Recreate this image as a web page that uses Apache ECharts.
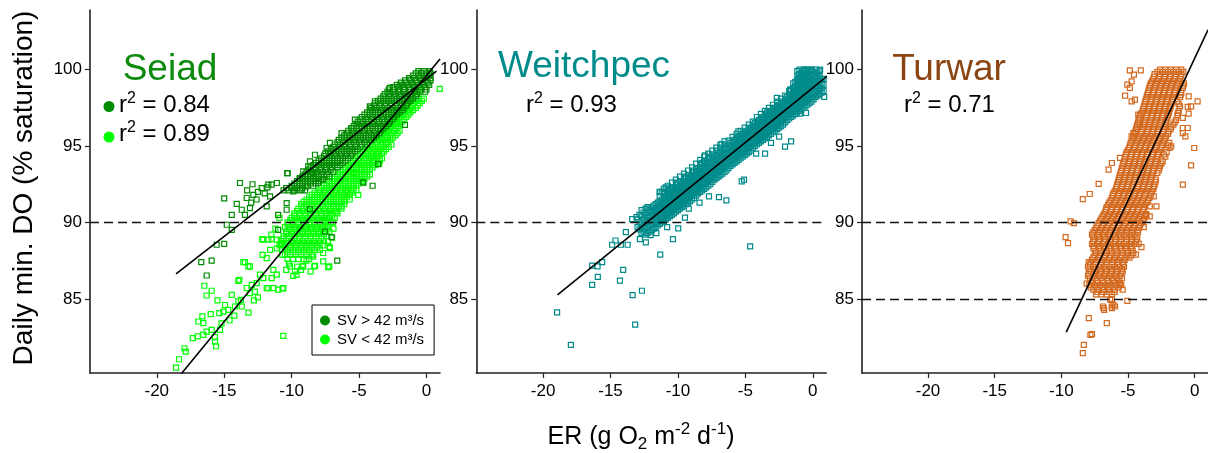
<!DOCTYPE html>
<html><head><meta charset="utf-8">
<script src="https://cdn.jsdelivr.net/npm/echarts@6/dist/echarts.min.js"></script>
<style>html,body{margin:0;padding:0;background:#fff}#c{width:1208px;height:453px}</style>
</head><body><div id="c"></div>
<script>
const FONT = '"Liberation Sans", Arial, Helvetica, sans-serif';
const xTicks = [-20, -15, -10, -5, 0];
const yTicks = [85, 90, 95, 100];
const panelNames = ['Seiad', 'Weitchpec', 'Turwar'];
const r2Values = ['0.84', '0.89', '0.93', '0.71'];
const legendNames = ['SV > 42 m³/s', 'SV < 42 m³/s'];
const thresholds = [[90], [90], [90, 85]];

// regression lines (end points)
const fitSeiadHi = [[-18.57, 86.64], [0.74, 99.9]];
const fitSeiadLo = [[-18.15, 80.14], [1.0, 100.7]];
const fitWeit = [[-18.93, 85.26], [1.04, 99.56]];
const fitTurwar = [[-9.63, 82.82], [1.0, 102.6]];

// Seiad, SV > 42 : rows [y, x, x, ...] and single points [x, y]
const seiadHiRows = [
[92.1,-10.6,-10.2,-9.8,-9.4,-9.0],[92.25,-10.4,-10.0,-9.6,-9.2],
[92.4,-10.0,-9.6,-9.2,-8.8,-8.4],[92.55,-9.8,-9.4,-9.0,-8.6,-8.2],
[92.7,-9.6,-9.2,-8.8,-8.4,-8.0],[92.85,-9.4,-9.0,-8.6,-8.2,-7.8],
[93.0,-9.2,-8.8,-8.4,-8.0,-7.6,-7.2],[93.15,-9.0,-8.6,-8.2,-7.8,-7.4],
[93.3,-8.9,-8.5,-8.1,-7.7,-7.3,-6.9],[93.45,-8.7,-8.3,-7.9,-7.5,-7.1],
[93.6,-8.6,-8.2,-7.8,-7.4,-7.0,-6.6],[93.75,-8.4,-8.0,-7.6,-7.2,-6.8,-6.4],
[93.9,-8.2,-7.8,-7.4,-7.0,-6.6,-6.2],[94.05,-8.0,-7.6,-7.2,-6.8,-6.4,-6.0],
[94.2,-7.8,-7.4,-7.0,-6.6,-6.2,-5.8],[94.35,-7.6,-7.2,-6.8,-6.4,-6.0,-5.6],
[94.5,-7.5,-7.1,-6.7,-6.3,-5.9,-5.5],[94.65,-7.3,-6.9,-6.5,-6.1,-5.7,-5.3],
[94.8,-7.1,-6.7,-6.3,-5.9,-5.5,-5.1],[94.95,-6.9,-6.5,-6.1,-5.7,-5.3,-4.9],
[95.1,-6.8,-6.4,-6.0,-5.6,-5.2,-4.8,-4.4],[95.25,-6.6,-6.2,-5.8,-5.4,-5.0,-4.6],
[95.4,-6.5,-6.1,-5.7,-5.3,-4.9,-4.5,-4.1],[95.55,-6.3,-5.9,-5.5,-5.1,-4.7,-4.3,-3.9],
[95.7,-6.1,-5.7,-5.3,-4.9,-4.5,-4.1,-3.7],[95.85,-5.9,-5.5,-5.1,-4.7,-4.3,-3.9,-3.5],
[96.0,-5.8,-5.4,-5.0,-4.6,-4.2,-3.8,-3.4],[96.15,-5.6,-5.2,-4.8,-4.4,-4.0,-3.6,-3.2],
[96.3,-5.4,-5.0,-4.6,-4.2,-3.8,-3.4,-3.0],[96.45,-5.2,-4.8,-4.4,-4.0,-3.6,-3.2,-2.8],
[96.6,-5.1,-4.7,-4.3,-3.9,-3.5,-3.1,-2.7],[96.75,-4.9,-4.5,-4.1,-3.7,-3.3,-2.9,-2.5],
[96.9,-4.8,-4.4,-4.0,-3.6,-3.2,-2.8,-2.4],[97.05,-4.6,-4.2,-3.8,-3.4,-3.0,-2.6,-2.2],
[97.2,-4.4,-4.0,-3.6,-3.2,-2.8,-2.4,-2.0],[97.35,-4.2,-3.8,-3.4,-3.0,-2.6,-2.2,-1.8],
[97.5,-4.1,-3.7,-3.3,-2.9,-2.5,-2.1,-1.7],[97.65,-3.9,-3.5,-3.1,-2.7,-2.3,-1.9,-1.5],
[97.8,-3.8,-3.4,-3.0,-2.6,-2.2,-1.8,-1.4],[97.95,-3.6,-3.2,-2.8,-2.4,-2.0,-1.6,-1.2],
[98.1,-3.4,-3.0,-2.6,-2.2,-1.8,-1.4,-1.0],[98.25,-3.2,-2.8,-2.4,-2.0,-1.6,-1.2,-0.8],
[98.4,-3.1,-2.7,-2.3,-1.9,-1.5,-1.1,-0.7],[98.55,-2.9,-2.5,-2.1,-1.7,-1.3,-0.9,-0.5,-0.1],
[98.7,-2.8,-2.4,-2.0,-1.6,-1.2,-0.8,-0.4,0.0],[98.85,-2.5,-2.1,-1.7,-1.3,-0.9,-0.5,-0.1],
[99.0,-2.2,-1.8,-1.4,-1.0,-0.6,-0.2,0.2],[99.15,-1.9,-1.5,-1.1,-0.7,-0.3,0.1],
[99.3,-1.6,-1.2,-0.8,-0.4,0.0,0.3],[99.45,-1.3,-0.9,-0.5,-0.1,0.3],
[99.6,-1.0,-0.6,-0.2,0.2],[99.75,-0.8,-0.4,0.0,0.3],[99.9,-0.6,-0.2,0.2]
];
const seiadHiPts = [
[-15.0,91.57],[-13.83,92.58],[-16.7,87.4],[-15.93,87.5],[-16.3,86.53],[-15.0,88.6],[-15.56,88.54],
[-14.07,91.22],[-14.44,90.5],[-14.81,89.85],[-14.44,89.52],[-13.33,91.6],[-12.84,91.8],[-12.5,92.0],
[-12.22,92.25],[-11.8,92.3],[-11.48,92.47],[-11.1,92.58],[-11.85,91.05],[-13.09,90.94],[-13.7,90.83],
[-13.46,90.5],[-11.0,90.5],[-10.37,90.83],[-11.0,89.52],[-10.37,91.27],[-9.88,92.03],[-10.3,93.23],
[-12.6,91.5],[-12.0,91.9],[-11.6,91.7],[-13.0,91.3],[-7.53,89.4],[-6.62,87.5],[-7.04,89.04],
[-8.64,90.87],[-4.0,92.4],[-3.58,93.82],[-4.69,92.62],[-1.6,96.38],[-13.3,92.1],[-12.9,92.5],
[-11.73,92.47],[-10.33,93.23],[-9.26,92.14],[-8.89,92.36],[-9.14,93.34],[-8.4,93.23],[-8.03,92.58],
[-7.66,92.8],[-2.72,98.8],[-1.98,98.9],[-1.24,99.35],[-0.37,99.78],[0.24,99.9],[-3.83,97.93],
[-4.2,97.6],[-5.31,96.73],[-5.56,96.18],[-6.3,95.85],[-7.16,95.2],[-7.41,94.87],[-8.27,94.43],
[-8.64,94.0],[-8.77,93.67],[-9.39,92.9],[-9.76,92.25]
];

// Seiad, SV < 42
const seiadLoRows = [
[87.6,-10.3,-9.9,-9.5,-9.1,-8.7],[87.9,-10.5,-10.1,-9.7,-9.3,-8.9,-8.5],
[88.05,-10.3,-9.9,-9.5,-9.1,-8.7],[88.2,-10.7,-10.3,-9.9,-9.5,-9.1,-8.7,-8.3,-7.9],
[88.35,-10.5,-10.1,-9.7,-9.3,-8.9,-8.5,-8.1],[88.5,-10.9,-10.5,-10.1,-9.7,-9.3,-8.9,-8.5,-8.1,-7.7],
[88.65,-10.7,-10.3,-9.9,-9.5,-9.1,-8.7,-8.3,-7.9],[88.8,-10.8,-10.4,-10.0,-9.6,-9.2,-8.8,-8.4,-8.0,-7.6],
[88.95,-10.6,-10.2,-9.8,-9.4,-9.0,-8.6,-8.2,-7.8],[89.1,-10.6,-10.2,-9.8,-9.4,-9.0,-8.6,-8.2,-7.8,-7.4],
[89.25,-10.4,-10.0,-9.6,-9.2,-8.8,-8.4,-8.0,-7.6],[89.4,-10.4,-10.0,-9.6,-9.2,-8.8,-8.4,-8.0,-7.6,-7.2],
[89.55,-10.2,-9.8,-9.4,-9.0,-8.6,-8.2,-7.8,-7.4],[89.7,-10.5,-10.1,-9.7,-9.3,-8.9,-8.5,-8.1,-7.7,-7.3],
[89.85,-10.3,-9.9,-9.5,-9.1,-8.7,-8.3,-7.9,-7.5],[90.0,-10.3,-9.9,-9.5,-9.1,-8.7,-8.3,-7.9,-7.5,-7.1],
[90.15,-10.1,-9.7,-9.3,-8.9,-8.5,-8.1,-7.7,-7.3],[90.3,-10.0,-9.6,-9.2,-8.8,-8.4,-8.0,-7.6,-7.2,-6.8],
[90.45,-9.8,-9.4,-9.0,-8.6,-8.2,-7.8,-7.4,-7.0],[90.6,-9.8,-9.4,-9.0,-8.6,-8.2,-7.8,-7.4,-7.0,-6.6],
[90.75,-9.6,-9.2,-8.8,-8.4,-8.0,-7.6,-7.2,-6.8],[90.9,-9.5,-9.1,-8.7,-8.3,-7.9,-7.5,-7.1,-6.7,-6.3],
[91.05,-9.3,-8.9,-8.5,-8.1,-7.7,-7.3,-6.9,-6.5],[91.2,-9.3,-8.9,-8.5,-8.1,-7.7,-7.3,-6.9,-6.5,-6.1],
[91.35,-9.1,-8.7,-8.3,-7.9,-7.5,-7.1,-6.7,-6.3],[91.5,-8.9,-8.5,-8.1,-7.7,-7.3,-6.9,-6.5,-6.1,-5.7],
[91.65,-8.7,-8.3,-7.9,-7.5,-7.1,-6.7,-6.3,-5.9],
[91.8,-8.5,-8.1,-7.7,-7.3,-6.9,-6.5,-6.1,-5.7],[91.95,-8.3,-7.9,-7.5,-7.1,-6.7,-6.3,-5.9,-5.5],
[92.1,-8.0,-7.6,-7.2,-6.8,-6.4,-6.0,-5.6,-5.2],[92.25,-7.8,-7.4,-7.0,-6.6,-6.2,-5.8,-5.4],
[92.4,-7.6,-7.2,-6.8,-6.4,-6.0,-5.6,-5.2],[92.55,-7.4,-7.0,-6.6,-6.2,-5.8,-5.4,-5.0],
[92.7,-7.2,-6.8,-6.4,-6.0,-5.6,-5.2,-4.8],[92.85,-7.0,-6.6,-6.2,-5.8,-5.4,-5.0,-4.6],
[93.0,-6.8,-6.4,-6.0,-5.6,-5.2,-4.8,-4.4],[93.15,-6.6,-6.2,-5.8,-5.4,-5.0,-4.6,-4.2],
[93.3,-6.4,-6.0,-5.6,-5.2,-4.8,-4.4],[93.45,-6.2,-5.8,-5.4,-5.0,-4.6,-4.2],
[93.6,-6.0,-5.6,-5.2,-4.8,-4.4,-4.0],[93.75,-5.8,-5.4,-5.0,-4.6,-4.2,-3.8],
[93.9,-5.6,-5.2,-4.8,-4.4,-4.0,-3.6],[94.05,-5.45,-5.05,-4.65,-4.25,-3.85,-3.45],
[94.2,-5.3,-4.9,-4.5,-4.1,-3.7,-3.3],[94.35,-5.1,-4.7,-4.3,-3.9,-3.5],
[94.5,-4.9,-4.5,-4.1,-3.7,-3.3],[94.65,-4.75,-4.35,-3.95,-3.55,-3.15],
[94.8,-4.6,-4.2,-3.8,-3.4,-3.0],[94.95,-4.4,-4.0,-3.6,-3.2,-2.8],
[95.1,-4.2,-3.8,-3.4,-3.0,-2.6],[95.25,-4.05,-3.65,-3.25,-2.85],
[95.4,-3.9,-3.5,-3.1,-2.7],[95.55,-3.7,-3.3,-2.9,-2.5],
[95.7,-3.5,-3.1,-2.7,-2.3],[95.85,-3.35,-2.95,-2.55,-2.15],
[96.0,-3.2,-2.8,-2.4,-2.0],[96.15,-3.05,-2.65,-2.25],
[96.3,-2.9,-2.5,-2.1],[96.45,-2.75,-2.35,-1.95],[96.6,-2.6,-2.2,-1.8],[96.75,-2.45,-2.05,-1.65],
[96.9,-2.3,-1.9,-1.5],[97.05,-2.15,-1.75,-1.35],[97.2,-2.0,-1.6,-1.2],[97.35,-1.8,-1.4,-1.0],
[97.5,-1.6,-1.2,-0.8],[97.65,-1.45,-1.05,-0.65],[97.8,-1.3,-0.9,-0.5],[97.95,-1.15,-0.75,-0.35],
[98.1,-1.0,-0.6,-0.2]
];
const seiadLoPts = [
[-18.57,80.5],[-18.35,81.05],[-17.95,81.77],[-17.85,81.55],[-17.33,82.43],[-16.96,82.54],[-16.55,82.65],
[-16.3,82.86],[-15.93,82.97],[-15.68,82.2],[-15.31,82.97],[-15.7,82.5],[-15.6,81.9],[-16.92,83.52],
[-16.55,83.41],[-16.62,83.85],[-15.36,84.07],[-15.06,84.17],[-14.7,84.28],[-14.94,84.6],[-14.25,83.91],
[-16.3,85.22],[-15.93,85.53],[-16.47,85.86],[-14.44,85.26],[-13.95,84.83],[-13.7,84.5],[-13.76,84.93],
[-13.33,85.71],[-13.09,85.37],[-12.72,85.48],[-12.96,85.92],[-12.59,86.03],[-12.1,86.36],[-12.35,86.58],
[-13.88,86.25],[-13.46,87.4],[-13.09,87.12],[-12.15,87.88],[-11.85,87.67],[-11.6,88.2],[-12.1,88.87],
[-11.73,85.7],[-11.36,85.7],[-10.99,85.6],[-10.62,85.7],[-10.62,82.58],[-12.18,88.91],[-11.73,88.87],
[-11.48,88.91],[-11.1,88.87],[-11.36,86.9],[-11.48,86.36],[-11.1,86.58],[-9.63,86.58],[-9.75,86.8],
[-10.12,87.12],[-9.14,87.12],[-8.27,87.16],[-7.29,87.08],[-8.4,87.77],[-7.66,88.0],[-7.21,87.12],
[-8.32,87.12],[-9.19,87.12],[-9.88,86.51],[-10.67,85.68],[-11.85,85.7],[0.98,98.74],[-1.29,97.34],
[-1.85,97.27],[-3.01,95.24],[-3.51,93.84],[-4.69,92.58],[-5.88,91.81],[-5.36,93.23],[-7.16,88.32],
[-7.66,87.45],[-12.8,84.9],[-14.2,84.5],[-13.2,84.1],[-12.5,85.1],[-14.6,83.6],[-15.2,83.4],
[-16.0,84.0],[-15.5,84.9],[-13.21,87.12],[-13.58,87.41],[-13.95,86.18],[-7.2,88.4],[-7.0,89.0],
[-6.9,89.6],[-7.3,88.8],[-6.94,90.0],[-2.22,96.51],[-2.72,96.29],[-2.96,95.96],[-3.33,95.74],
[-3.58,94.65],[-3.95,94.22],[-4.81,93.45],[-5.06,91.81],[-5.68,91.81],[-6.05,91.37],[-6.3,91.05],
[-6.67,90.72],[-7.16,90.5],[-7.53,90.07],[-2.47,96.94],[-1.36,97.92],[-0.62,98.58],[-11.5,89.2],
[-11.2,89.6],[-10.9,90.3],[-10.7,87.9],[-11.1,88.3],[-10.2,87.3],[-9.6,87.1],[-8.9,87.5],[-10.8,88.6],
[-9.3,86.9],[-8.6,86.8],[-10.4,86.9]
];

// Weitchpec: columns [x, y, y, ...] and single points [x, y]
const weitCols = [
[-13.0,89.7,90.2],[-12.85,89.55,90.0,90.5],[-12.7,89.3,89.8,90.4,90.8],[-12.55,89.4,89.75,90.2,90.65],
[-12.4,89.2,89.6,90.0,90.5,90.9],[-12.25,89.3,89.7,90.05,90.3,90.65,91.0],
[-12.1,89.4,89.8,90.1,90.4,90.8],[-11.95,89.5,89.85,90.15,90.45,90.7,90.95],
[-11.8,89.6,89.9,90.2,90.5,90.8,91.1],[-11.65,89.7,90.0,90.3,90.6,90.9,91.2],
[-11.5,89.8,90.1,90.4,90.7,91.0,91.3],[-11.35,89.9,90.2,90.5,90.8,91.1,91.4,91.7,92.0],
[-11.2,90.0,90.3,90.6,90.9,91.2,91.5,92.0],[-11.05,90.1,90.4,90.7,91.0,91.3,91.6,91.9,92.2],
[-10.9,90.2,90.5,90.8,91.1,91.4,91.7],[-10.75,90.3,90.6,90.9,91.2,91.5,91.8,92.1,92.4],
[-10.6,90.4,90.7,91.0,91.3,91.6,91.9,92.2],[-10.45,90.5,90.8,91.1,91.4,91.7,92.0,92.3,92.6],
[-10.3,90.6,90.9,91.2,91.5,91.8,92.1],[-10.15,90.7,91.0,91.3,91.6,91.9,92.2,92.5,92.8],
[-10.0,90.8,91.1,91.4,91.7,92.0,92.3,92.6],[-9.85,90.9,91.2,91.5,91.8,92.1,92.4,92.7,93.0],
[-9.7,91.0,91.3,91.6,91.9,92.2,92.5],[-9.55,91.1,91.4,91.7,92.0,92.3,92.6,92.9,93.2],
[-9.4,91.2,91.5,91.8,92.1,92.4,92.7,93.0],[-9.25,91.3,91.6,91.9,92.2,92.5,92.8,93.1,93.4],
[-9.1,91.4,91.7,92.0,92.3,92.6,92.9],[-8.95,91.5,91.8,92.1,92.4,92.7,93.0,93.3,93.6],
[-8.8,91.6,91.9,92.2,92.5,92.8,93.1,93.4],[-8.65,91.75,92.05,92.35,92.65,92.95,93.25,93.55,93.85],
[-8.5,91.9,92.2,92.5,92.8,93.1,93.4],[-8.35,92.0,92.3,92.6,92.9,93.2,93.5,93.8,94.1],
[-8.2,92.1,92.4,92.7,93.0,93.3,93.6,93.9],[-8.05,92.2,92.5,92.8,93.1,93.4,93.7,94.0,94.3],
[-7.9,92.3,92.6,92.9,93.2,93.5,93.8],[-7.75,92.4,92.7,93.0,93.3,93.6,93.9,94.2,94.5],
[-7.6,92.5,92.8,93.1,93.4,93.7,94.0,94.3],[-7.45,92.65,92.95,93.25,93.55,93.85,94.15,94.45,94.7],
[-7.3,92.8,93.1,93.4,93.7,94.0,94.3],[-7.15,92.9,93.2,93.5,93.8,94.1,94.4,94.7,94.9],
[-7.0,93.0,93.3,93.6,93.9,94.2,94.5],[-6.85,93.1,93.4,93.7,94.0,94.3,94.6,94.9,95.1],
[-6.7,93.2,93.5,93.8,94.1,94.4,94.7],[-6.55,93.3,93.6,93.9,94.2,94.5,94.8,95.1,95.3],
[-6.4,93.4,93.7,94.0,94.3,94.6,94.9],[-6.25,93.55,93.85,94.15,94.45,94.75,95.05,95.35],
[-6.1,93.7,94.0,94.3,94.6,94.9,95.2],[-5.95,93.8,94.1,94.4,94.7,95.0,95.3,95.6],
[-5.8,93.9,94.2,94.5,94.8,95.1,95.4],[-5.65,94.0,94.3,94.6,94.9,95.2,95.5,95.8],
[-5.5,94.1,94.4,94.7,95.0,95.3,95.6],[-5.35,94.2,94.5,94.8,95.1,95.4,95.7,96.0],
[-5.2,94.3,94.6,94.9,95.2,95.5,95.8],[-5.05,94.4,94.7,95.0,95.3,95.6,95.9,96.2],
[-4.9,94.5,94.8,95.1,95.4,95.7,96.0],[-4.75,94.6,94.9,95.2,95.5,95.8,96.1,96.4],
[-4.6,94.7,95.0,95.3,95.6,95.9,96.2],[-4.45,94.85,95.15,95.45,95.75,96.05,96.35,96.6],
[-4.3,95.0,95.3,95.6,95.9,96.2,96.5],[-4.15,95.1,95.4,95.7,96.0,96.3,96.6,96.9],
[-4.0,95.2,95.5,95.8,96.1,96.4,96.7],[-3.85,95.3,95.6,95.9,96.2,96.5,96.8,97.1],
[-3.7,95.4,95.7,96.0,96.3,96.6,96.9],[-3.55,95.5,95.8,96.1,96.4,96.7,97.0,97.3],
[-3.4,95.6,95.9,96.2,96.5,96.8,97.1],[-3.25,95.7,96.0,96.3,96.6,96.9,97.2,97.5],
[-3.1,95.8,96.1,96.4,96.7,97.0,97.3],[-2.95,95.9,96.2,96.5,96.8,97.1,97.4,97.7],
[-2.8,96.0,96.3,96.6,96.9,97.2,97.5],[-2.65,96.1,96.4,96.7,97.0,97.3,97.6,97.9],
[-2.5,96.2,96.5,96.8,97.1,97.4,97.7],[-2.35,96.3,96.6,96.9,97.2,97.5,97.8,98.1],
[-2.2,96.4,96.7,97.0,97.3,97.6,97.9],[-2.05,96.55,96.85,97.15,97.45,97.75,98.05,98.3],
[-1.9,96.7,97.0,97.3,97.6,97.9,98.2],[-1.75,96.8,97.1,97.4,97.7,98.0,98.3,98.6],
[-1.6,96.9,97.2,97.5,97.8,98.1,98.4,98.7],[-1.45,97.0,97.3,97.6,97.9,98.2,98.5,98.8,99.1],
[-1.3,97.1,97.4,97.7,98.0,98.3,98.6,98.9,99.2],
[-1.15,97.2,97.5,97.8,98.1,98.4,98.7,99.0,99.3,99.6,99.9],
[-1.0,97.3,97.6,97.9,98.2,98.5,98.8,99.1,99.4,99.7,100.0],
[-0.85,97.4,97.7,98.0,98.3,98.6,98.9,99.2,99.5,99.8],
[-0.7,97.5,97.8,98.1,98.4,98.7,99.0,99.3,99.6,99.9],
[-0.55,97.6,97.9,98.2,98.5,98.8,99.1,99.4,99.7,100.0],
[-0.4,97.7,98.0,98.3,98.6,98.9,99.2,99.5,99.8,100.0],
[-0.25,97.8,98.1,98.4,98.7,99.0,99.3,99.6,99.9],
[-0.1,97.9,98.2,98.5,98.8,99.1,99.4,99.7,100.0],
[0.05,98.05,98.35,98.65,98.95,99.25,99.55,99.85],
[0.2,98.2,98.5,98.8,99.1,99.4,99.7,100.0],[0.35,98.3,98.6,98.9,99.2,99.5,99.8],
[0.5,98.4,98.7,99.0,99.3,99.6,99.9],[0.65,98.5,98.8,99.1,99.4],[0.8,98.6,99.0,99.4]
];
const weitPts = [
[-18.96,84.11],[-17.94,81.99],[-16.36,85.92],[-15.94,86.44],[-16.36,87.18],[-15.96,87.12],[-15.62,87.41],
[-14.06,86.9],[-14.3,86.2],[-13.36,85.25],[-12.67,85.53],[-13.17,83.32],[-11.31,87.9],[-10.37,88.91],
[-9.98,89.61],[-9.48,90.31],[-6.96,91.66],[-6.41,91.44],[-5.27,92.69],[-5.1,92.8],[-4.65,88.43],[-3.54,94.5],
[-2.5,95.61],[-2.06,94.96],[-1.61,95.31],[-0.5,97.16],[-0.94,97.12],[0.84,98.21],[-2.67,98.15],
[-3.37,97.25],[-5.52,95.96],[-6.76,95.13],[-8.0,94.39],[-11.34,91.99],[-10.91,92.29],[-12.2,91.0],
[-13.39,90.22],[-13.07,90.35],[-13.86,89.37],[-14.63,88.82],[-14.88,88.54],[-14.23,88.54],[-13.73,88.54],
[-12.82,88.91],[-12.38,88.69],[-12.03,89.17],[-0.65,100.0],[-0.07,100.0],[0.54,100.0],[-1.07,99.46],
[-1.69,98.69],[-9.2,90.9],[-8.4,91.3],[-7.7,91.7],[-10.8,89.7],[-11.6,89.3],[-4.2,94.5],[-3.1,95.2]
];

// Turwar: rows [y, x, x, ...] and single points [x, y]
const turwarRows = [
[85.3,-7.4,-7.0,-6.6,-6.2],[85.45,-7.3,-6.85,-6.4,-6.0],
[85.6,-7.6,-7.2,-6.8,-6.4,-6.0],[85.75,-7.8,-7.35,-6.95,-6.5,-6.15,-5.7],
[85.9,-7.9,-7.5,-7.1,-6.7,-6.3,-5.9,-5.5],[86.05,-7.75,-7.3,-6.85,-6.45,-6.0,-5.6],
[86.2,-7.7,-7.3,-6.9,-6.5,-6.1,-5.7],[86.35,-7.85,-7.45,-7.05,-6.6,-6.2,-5.85,-5.45],
[86.5,-8.0,-7.6,-7.2,-6.8,-6.4,-6.0,-5.6],[86.65,-7.95,-7.55,-7.1,-6.7,-6.3,-5.9,-5.5],
[86.8,-7.8,-7.4,-7.0,-6.6,-6.2,-5.8,-5.4],[86.95,-7.9,-7.45,-7.05,-6.65,-6.25,-5.85,-5.45],
[87.1,-8.0,-7.6,-7.2,-6.8,-6.4,-6.0,-5.6,-5.3],[87.25,-7.85,-7.45,-7.05,-6.6,-6.2,-5.75,-5.35],
[87.4,-7.8,-7.4,-7.0,-6.6,-6.2,-5.8,-5.4],[87.55,-7.7,-7.3,-6.9,-6.45,-6.05,-5.7,-5.25],
[87.7,-7.6,-7.2,-6.8,-6.4,-6.0,-5.6,-5.2,-4.9],[87.85,-7.5,-7.1,-6.7,-6.3,-5.85,-5.45,-5.05,-4.75],
[88.0,-7.4,-7.0,-6.6,-6.2,-5.8,-5.4,-5.0,-4.6],[88.15,-7.45,-7.05,-6.65,-6.25,-5.85,-5.45,-5.05,-4.65],
[88.3,-7.6,-7.2,-6.8,-6.4,-6.0,-5.6,-5.2,-4.8],[88.45,-7.55,-7.1,-6.7,-6.3,-5.9,-5.5,-5.1,-4.7],
[88.6,-7.7,-7.3,-6.9,-6.5,-6.1,-5.7,-5.3,-4.9,-4.5],[88.75,-7.6,-7.2,-6.8,-6.35,-5.95,-5.55,-5.15,-4.7,-4.4],
[88.9,-7.5,-7.1,-6.7,-6.3,-5.9,-5.5,-5.1,-4.7,-4.3],[89.05,-7.6,-7.2,-6.75,-6.35,-5.95,-5.55,-5.15,-4.75,-4.35],
[89.2,-7.7,-7.3,-6.9,-6.5,-6.1,-5.7,-5.3,-4.9,-4.5],[89.35,-7.6,-7.15,-6.75,-6.35,-5.95,-5.5,-5.1,-4.7,-4.25],
[89.5,-7.5,-7.1,-6.7,-6.3,-5.9,-5.5,-5.1,-4.7,-4.3],[89.65,-7.4,-7.0,-6.6,-6.2,-5.8,-5.4,-5.0,-4.6,-4.2],
[89.8,-7.3,-6.9,-6.5,-6.1,-5.7,-5.3,-4.9,-4.5,-4.1],[89.95,-7.2,-6.8,-6.4,-6.0,-5.6,-5.2,-4.8,-4.4,-4.0],
[90.1,-7.1,-6.7,-6.3,-5.9,-5.5,-5.1,-4.7,-4.3,-3.9],[90.25,-7.0,-6.6,-6.2,-5.8,-5.4,-5.0,-4.6,-4.2,-3.8],
[90.4,-6.9,-6.5,-6.1,-5.7,-5.3,-4.9,-4.5,-4.1,-3.7],[90.55,-6.8,-6.4,-6.0,-5.6,-5.2,-4.8,-4.4,-4.0,-3.65],
[90.7,-6.7,-6.3,-5.9,-5.5,-5.1,-4.7,-4.3,-3.9],[90.85,-6.65,-6.25,-5.85,-5.45,-5.05,-4.65,-4.25,-3.85],
[91.0,-6.6,-6.2,-5.8,-5.4,-5.0,-4.6,-4.2,-3.8],[91.15,-6.5,-6.1,-5.7,-5.3,-4.9,-4.5,-4.1,-3.7],
[91.3,-6.4,-6.0,-5.6,-5.2,-4.8,-4.4,-4.0,-3.6],[91.45,-6.3,-5.9,-5.5,-5.1,-4.7,-4.3,-3.9,-3.5],
[91.6,-6.2,-5.8,-5.4,-5.0,-4.6,-4.2,-3.8,-3.4],[91.75,-6.15,-5.75,-5.35,-4.95,-4.55,-4.15,-3.75,-3.3],
[91.9,-6.1,-5.7,-5.3,-4.9,-4.5,-4.1,-3.7,-3.3],[92.05,-6.0,-5.6,-5.2,-4.8,-4.4,-4.0,-3.6,-3.2],
[92.2,-5.9,-5.5,-5.1,-4.7,-4.3,-3.9,-3.5,-3.1],[92.35,-5.85,-5.45,-5.05,-4.65,-4.25,-3.85,-3.45,-3.05],
[92.5,-5.8,-5.4,-5.0,-4.6,-4.2,-3.8,-3.4,-3.0],[92.65,-5.75,-5.35,-4.95,-4.55,-4.15,-3.75,-3.35,-2.95],
[92.8,-5.7,-5.3,-4.9,-4.5,-4.1,-3.7,-3.3,-2.9],[92.95,-5.65,-5.25,-4.85,-4.45,-4.05,-3.65,-3.25],
[93.1,-5.6,-5.2,-4.8,-4.4,-4.0,-3.6,-3.2],[93.25,-5.55,-5.15,-4.75,-4.35,-3.95,-3.55,-3.15,-2.8],
[93.4,-5.5,-5.1,-4.7,-4.3,-3.9,-3.5,-3.1,-2.7],[93.55,-5.45,-5.05,-4.65,-4.25,-3.85,-3.45,-3.05,-2.65],
[93.7,-5.4,-5.0,-4.6,-4.2,-3.8,-3.4,-3.0,-2.6],[93.85,-5.35,-4.95,-4.55,-4.15,-3.75,-3.35,-2.95,-2.5],
[94.0,-5.3,-4.9,-4.5,-4.1,-3.7,-3.3,-2.9,-2.4],[94.15,-5.25,-4.85,-4.45,-4.05,-3.65,-3.25,-2.85],
[94.3,-5.2,-4.8,-4.4,-4.0,-3.6,-3.2,-2.8,-2.2],[94.45,-5.15,-4.75,-4.35,-3.95,-3.55,-3.15,-2.75,-2.3],
[94.6,-5.1,-4.7,-4.3,-3.9,-3.5,-3.1,-2.7,-2.1],[94.75,-5.0,-4.6,-4.2,-3.8,-3.4,-3.0,-2.6],
[94.9,-4.9,-4.5,-4.1,-3.7,-3.3,-2.9,-2.5],[95.05,-4.85,-4.45,-4.05,-3.65,-3.25,-2.85,-2.45,-2.0],
[95.2,-4.8,-4.4,-4.0,-3.6,-3.2,-2.8,-2.4,-1.9],[95.35,-4.7,-4.3,-3.9,-3.5,-3.1,-2.7,-2.3],
[95.5,-4.6,-4.2,-3.8,-3.4,-3.0,-2.6,-2.2],[95.65,-4.55,-4.15,-3.75,-3.35,-2.95,-2.55,-2.15],
[95.8,-4.5,-4.0,-3.6,-3.2,-2.8,-2.4,-2.0],[95.95,-4.45,-4.0,-3.55,-3.15,-2.75,-2.35,-1.95],
[96.1,-4.4,-3.9,-3.5,-3.1,-2.7,-2.3,-1.8],[96.25,-4.35,-3.85,-3.45,-3.05,-2.65,-2.25,-1.75],
[96.4,-4.3,-3.8,-3.4,-3.0,-2.6,-2.2,-1.6],[96.55,-4.25,-3.75,-3.35,-2.95,-2.55,-2.15,-1.5],
[96.7,-4.2,-3.7,-3.3,-2.9,-2.5,-2.1,-1.4],[96.85,-4.15,-3.65,-3.25,-2.85,-2.45,-2.05],
[97.0,-4.1,-3.6,-3.2,-2.8,-2.4,-2.0,-1.3],[97.15,-4.0,-3.55,-3.15,-2.75,-2.35,-1.95,-1.25],
[97.3,-3.9,-3.5,-3.1,-2.7,-2.3,-1.9,-1.2],[97.45,-3.85,-3.45,-3.05,-2.65,-2.25,-1.85],
[97.6,-3.8,-3.4,-3.0,-2.6,-2.2,-1.8,-1.1],[97.75,-3.75,-3.35,-2.95,-2.55,-2.15,-1.75,-1.2],
[97.9,-3.7,-3.3,-2.9,-2.5,-2.1,-1.7,-1.3],[98.05,-3.65,-3.25,-2.85,-2.45,-2.05,-1.65],
[98.2,-3.6,-3.2,-2.8,-2.4,-2.0,-1.6,-1.1],[98.35,-3.55,-3.15,-2.75,-2.35,-1.95,-1.55,-1.05],
[98.5,-3.5,-3.1,-2.7,-2.3,-1.9,-1.5,-1.0],[98.65,-3.45,-3.05,-2.65,-2.25,-1.85,-1.45],
[98.8,-3.4,-3.0,-2.6,-2.2,-1.8,-1.4,-0.9],[98.95,-3.35,-2.95,-2.55,-2.15,-1.75,-1.35,-0.85],
[99.1,-3.3,-2.9,-2.5,-2.1,-1.7,-1.3,-0.8],[99.25,-3.2,-2.8,-2.4,-2.0,-1.6,-1.2],
[99.4,-3.1,-2.7,-2.3,-1.9,-1.5,-1.1],[99.55,-3.05,-2.65,-2.25,-1.85,-1.45,-1.05],
[99.7,-3.0,-2.6,-2.2,-1.8,-1.4,-1.0],[99.85,-2.8,-2.4,-2.0,-1.6,-1.2,-0.85],
[100.0,-2.6,-2.2,-1.8,-1.4,-1.0]
];
const turwarPts = [
[-4.86,99.95],[-4.04,99.95],[-4.56,99.67],[-5.05,99.02],[-4.86,98.8],[-4.73,99.23],[-5.22,98.3],
[-4.73,97.92],[-4.48,98.04],[-4.23,97.05],[-4.11,96.4],[-4.73,95.63],[-4.6,95.85],[-5.6,94.22],
[-6.21,93.89],[-6.46,93.45],[-7.2,92.53],[-7.87,91.86],[-8.39,91.53],[-9.31,90.07],[-9.06,89.96],
[-9.68,89.04],[-9.5,88.65],[-7.94,83.74],[-8.31,81.99],[-8.39,81.45],[-7.82,82.65],[-7.7,82.7],
[-6.59,83.41],[-6.88,84.5],[-6.79,84.28],[-6.21,84.5],[-6.09,84.61],[-6.34,84.94],[-6.21,85.0],
[-5.05,84.87],[-3.99,88.39],[-3.82,89.7],[-3.62,90.5],[-3.37,91.05],[-3.07,91.7],[-0.89,92.47],
[-0.27,93.73],[-0.03,94.87],[-0.7,95.63],[-0.89,95.85],[-0.52,96.18],[-0.89,96.18],[-0.89,96.84],
[-0.45,97.12],[-0.52,97.56],[0.22,97.92],[-0.27,97.6],[-0.45,98.25],[-1.76,94.98],[-1.89,94.87],
[-2.87,91.05],[-3.37,90.4],[-5.97,84.5],[-6.21,84.4],[-6.83,84.4],[-8.1,86.0],[-7.95,87.4],
[-5.6,86.0],[-5.4,85.6],[-4.4,87.9],[-4.2,88.6]
];

const fromRows = rows => rows.flatMap(r => r.slice(1).map(x => [x, r[0]]));
const fromCols = cols => cols.flatMap(c => c.slice(1).map(y => [c[0], y]));

const C = {
  seiadTitle: '#0b8a0b', hi: '#008B00', lo: '#00FF00',
  weit: '#008B8B', turTitle: '#8B4513', tur: '#D2691E'
};

const gridLefts = [90, 476.3, 862];
const grids = gridLefts.map(l => ({left: l, top: 10, width: 350, height: 363}));
const xAxes = gridLefts.map((l, i) => ({
  type: 'value', gridIndex: i, min: -24.95, max: 1,
  axisLine: {show: true, onZero: false, lineStyle: {color: '#222', width: 1.6}},
  axisTick: {show: true, length: 5, lineStyle: {color: '#222', width: 1.2}, customValues: xTicks},
  axisLabel: {customValues: xTicks, color: '#000', fontSize: 17, fontFamily: FONT, margin: 10},
  splitLine: {show: false}
}));
const yAxes = gridLefts.map((l, i) => ({
  type: 'value', gridIndex: i, min: 80.15, max: 103.9,
  axisLine: {show: true, onZero: false, lineStyle: {color: '#222', width: 1.6}},
  axisTick: {show: true, length: 5, lineStyle: {color: '#222', width: 1.2}, customValues: yTicks},
  axisLabel: {customValues: yTicks, color: '#000', fontSize: 17, fontFamily: FONT, margin: 8},
  splitLine: {show: false}
}));

function scatter(name, idx, data, color) {
  return {
    name, type: 'scatter', xAxisIndex: idx, yAxisIndex: idx, data,
    symbol: 'rect', symbolSize: 5, silent: true, large: false,
    itemStyle: {color: 'rgba(255,255,255,0)', borderColor: color, borderWidth: 1.2, opacity: 1},
    emphasis: {disabled: true}
  };
}
function fitLine(idx, data, marks) {
  const s = {
    type: 'line', xAxisIndex: idx, yAxisIndex: idx, data, silent: true,
    symbol: 'none', showSymbol: false, lineStyle: {color: '#000', width: 1.6},
    emphasis: {disabled: true}, z: 5
  };
  if (marks) {
    s.markLine = {
      silent: true, symbol: 'none', label: {show: false},
      lineStyle: {type: [9, 5], color: '#111', width: 1.3},
      data: marks.map(v => ({yAxis: v}))
    };
  }
  return s;
}

const series = [
  scatter(legendNames[1], 0, fromRows(seiadLoRows).concat(seiadLoPts), C.lo),
  scatter(legendNames[0], 0, fromRows(seiadHiRows).concat(seiadHiPts), C.hi),
  fitLine(0, fitSeiadHi, thresholds[0]),
  fitLine(0, fitSeiadLo, null),
  scatter('Weitchpec', 1, fromCols(weitCols).concat(weitPts), C.weit),
  fitLine(1, fitWeit, thresholds[1]),
  scatter('Turwar', 2, fromRows(turwarRows).concat(turwarPts), C.tur),
  fitLine(2, fitTurwar, thresholds[2])
];

function r2Text(x, y, val) {
  return {
    type: 'text', x, y, silent: true,
    style: {
      text: '{r|r}{s|2}{r| = ' + val + '}',
      align: 'left', verticalAlign: 'middle',
      rich: {
        r: {fontSize: 24, fontFamily: FONT, fill: '#000', color: '#000', lineHeight: 28, verticalAlign: 'middle'},
        s: {fontSize: 16, fontFamily: FONT, fill: '#000', color: '#000', lineHeight: 14, verticalAlign: 'top'}
      }
    }
  };
}
function title(x, y, text, color) {
  return {type: 'text', x, y, silent: true,
    style: {text, fontSize: 37, fontFamily: FONT, fill: color, align: 'center', verticalAlign: 'middle'}};
}

const graphic = [
  {type: 'text', x: 24, y: 188, rotation: Math.PI / 2, silent: true,
   style: {text: 'Daily min. DO (% saturation)', fontSize: 28, fontFamily: FONT, fill: '#000',
           align: 'center', verticalAlign: 'middle'}},
  {type: 'text', x: 641, y: 437, silent: true,
   style: {
     text: '{a|ER (g O}{b|2}{a| m}{c|-2}{a| d}{c|-1}{a|)}',
     align: 'center', verticalAlign: 'middle',
     rich: {
       a: {fontSize: 25, fontFamily: FONT, fill: '#000', color: '#000', lineHeight: 32, verticalAlign: 'middle'},
       b: {fontSize: 17, fontFamily: FONT, fill: '#000', color: '#000', lineHeight: 14, verticalAlign: 'bottom'},
       c: {fontSize: 17, fontFamily: FONT, fill: '#000', color: '#000', lineHeight: 14, verticalAlign: 'top'}
     }
   }},
  title(170, 70, panelNames[0], C.seiadTitle),
  title(584, 67, panelNames[1], C.weit),
  title(949, 70, panelNames[2], C.turTitle),
  {type: 'circle', shape: {cx: 109, cy: 106.5, r: 5.5}, style: {fill: C.hi}, silent: true},
  {type: 'circle', shape: {cx: 109, cy: 137, r: 5.5}, style: {fill: C.lo}, silent: true},
  r2Text(119, 105, r2Values[0]),
  r2Text(119, 134, r2Values[1]),
  r2Text(526, 105, r2Values[2]),
  r2Text(904, 105, r2Values[3])
];

const chart = echarts.init(document.getElementById('c'), null, {renderer: 'canvas'});
chart.setOption({
  animation: false,
  backgroundColor: '#fff',
  grid: grids, xAxis: xAxes, yAxis: yAxes,
  legend: {
    left: 312, top: 305, orient: 'vertical',
    borderColor: '#000', borderWidth: 1, borderRadius: 0,
    padding: [8, 10, 8, 8], itemGap: 4, itemWidth: 14, itemHeight: 10,
    selectedMode: false,
    textStyle: {fontSize: 15, fontFamily: FONT, color: '#000'},
    data: [
      {name: legendNames[0], icon: 'circle', itemStyle: {color: C.hi, borderWidth: 0}},
      {name: legendNames[1], icon: 'circle', itemStyle: {color: C.lo, borderWidth: 0}}
    ]
  },
  graphic,
  series
});
</script>
</body></html>
